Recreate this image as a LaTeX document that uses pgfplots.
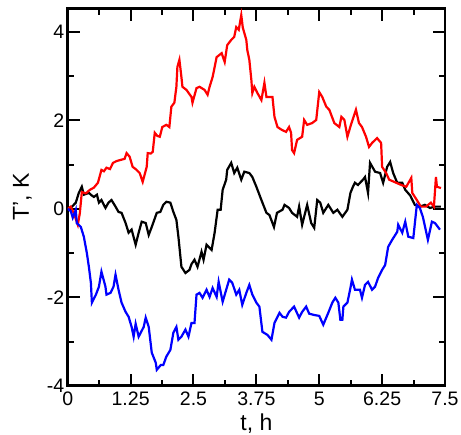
\documentclass[border=0pt]{standalone}
\usepackage{fontspec}
\setmainfont{Liberation Sans}
\usepackage{pgfplots}
\pgfplotsset{compat=1.18}

\begin{document}
\begin{tikzpicture}
\begin{axis}[
    name=ax,
    scale only axis,
    width=377pt,
    height=377pt,
    xmin=0, xmax=7.5,
    ymin=-4, ymax=4.53,
    xtick={0,1.25,2.5,3.75,5,6.25,7.5},
    xticklabels={0,1.25,2.5,3.75,5,6.25,7.5},
    ytick={-4,-2,0,2,4},
    minor x tick num=1,
    minor y tick num=1,
    tick align=inside,
    major tick length=12pt,
    minor tick length=6pt,
    every tick/.style={line width=2pt, black},
    axis line style={line width=2.6pt},
    /pgf/number format/assume math mode=true,
    tick label style={font=\fontsize{19.5}{22}\selectfont},
    xticklabel style={yshift=-3pt},
    xlabel={t, h},
    ylabel={T', K},
    every axis x label/.style={at={(axis description cs:0.5,-0.1008)}, anchor=center, font=\fontsize{23}{26}\selectfont},
    every axis y label/.style={at={(axis description cs:-0.1199,0.5)}, rotate=90, anchor=center, font=\fontsize{23}{26}\selectfont},
]
% black
\addplot[black, line width=2.2pt] coordinates {
(0,0)(0.06,0.02)(0.16,0.14)(0.22,0.36)(0.28,0.5)(0.32,0.32)(0.42,0.36)(0.48,0.3)(0.52,0.27)(0.58,0.32)(0.62,0.14)(0.67,0.2)(0.75,0.02)(0.81,0.14)(0.87,0.2)(0.95,0.05)(1.01,-0.07)(1.07,-0.09)(1.15,-0.32)(1.21,-0.54)(1.27,-0.47)(1.35,-0.81)(1.41,-0.54)(1.47,-0.29)(1.55,-0.32)(1.61,-0.59)(1.67,-0.41)(1.77,-0.09)(1.84,-0.07)(1.90,0.09)(1.96,0.16)(2.04,0.14)(2.10,-0.07)(2.16,-0.25)(2.2,-0.63)(2.26,-1.31)(2.34,-1.45)(2.42,-1.38)(2.46,-1.25)(2.52,-1.15)(2.58,-1.31)(2.66,-0.97)(2.70,-1.15)(2.76,-0.81)(2.86,-0.93)(2.92,-0.54)(2.98,-0.02)(3.04,-0.02)(3.08,0.43)(3.15,0.66)(3.17,0.88)(3.25,1.04)(3.31,0.81)(3.37,0.93)(3.45,0.66)(3.51,0.84)(3.61,0.81)(3.67,0.72)(3.75,0.5)(3.85,0.2)(3.95,-0.09)(4.01,-0.14)(4.10,-0.41)(4.16,-0.09)(4.27,-0.02)(4.31,0.09)(4.40,0.02)(4.46,-0.09)(4.56,-0.18)(4.60,0.05)(4.66,-0.36)(4.76,0.09)(4.84,-0.32)(4.9,-0.43)(4.96,0.2)(5.02,0.14)(5.08,-0.09)(5.18,0.09)(5.28,-0.09)(5.36,-0.02)(5.46,-0.18)(5.56,-0.02)(5.62,0.36)(5.67,0.5)(5.71,0.59)(5.77,0.54)(5.87,0.66)(5.91,0.72)(5.97,0.36)(6.01,1.04)(6.11,0.84)(6.21,0.81)(6.27,0.59)(6.35,0.95)(6.41,1.06)(6.47,0.81)(6.55,0.59)(6.65,0.59)(6.71,0.43)(6.81,0.3)(6.90,0.09)(7.0,0.05)(7.1,0.09)(7.2,0.02)(7.3,0.05)(7.42,0.05)
};
% red
\addplot[red, line width=2.2pt] coordinates {
(0,0)(0.06,0.05)(0.12,-0.1)(0.2,-0.36)(0.24,-0.1)(0.28,0.38)(0.36,0.35)(0.44,0.43)(0.52,0.48)(0.6,0.59)(0.67,0.88)(0.72,0.85)(0.77,0.93)(0.84,0.9)(0.9,1.04)(0.97,1.08)(1.03,1.1)(1.13,1.13)(1.17,1.26)(1.23,1.18)(1.29,0.95)(1.35,0.9)(1.43,0.81)(1.49,0.61)(1.57,0.95)(1.59,1.26)(1.65,1.25)(1.69,1.29)(1.73,1.72)(1.78,1.65)(1.83,1.63)(1.88,1.85)(1.96,1.9)(2.02,1.85)(2.06,2.31)(2.12,2.4)(2.16,2.76)(2.18,3.21)(2.22,3.37)(2.26,2.98)(2.28,2.76)(2.36,2.69)(2.46,2.53)(2.48,2.4)(2.56,2.73)(2.62,2.76)(2.72,2.69)(2.78,2.58)(2.82,2.76)(2.88,2.98)(2.96,3.43)(3.06,3.52)(3.12,3.32)(3.17,3.7)(3.25,3.82)(3.31,3.89)(3.35,4.11)(3.4,4.05)(3.45,4.38)(3.48,4.1)(3.55,3.82)(3.57,3.59)(3.61,3.37)(3.65,2.92)(3.67,2.62)(3.71,2.76)(3.77,2.62)(3.85,2.46)(3.91,2.85)(3.95,2.53)(4.07,2.53)(4.11,2.08)(4.17,1.85)(4.25,1.79)(4.34,1.74)(4.40,1.85)(4.44,1.72)(4.46,1.33)(4.50,1.26)(4.56,1.56)(4.66,1.63)(4.70,2.01)(4.76,1.9)(4.86,1.94)(4.94,2.01)(5.0,2.64)(5.06,2.53)(5.14,2.31)(5.2,2.24)(5.30,1.94)(5.40,1.85)(5.44,2.08)(5.5,2.01)(5.56,1.63)(5.63,1.9)(5.73,2.24)(5.79,1.94)(5.85,1.85)(5.93,1.63)(5.99,1.4)(6.05,1.49)(6.15,1.6)(6.23,1.49)(6.25,0.95)(6.33,0.81)(6.39,0.66)(6.53,0.59)(6.63,0.54)(6.73,0.5)(6.83,0.7)(6.85,0.36)(6.94,0.2)(7.02,0.05)(7.12,0.05)(7.22,0.14)(7.28,0.05)(7.32,0.72)(7.34,0.5)(7.42,0.47)
};
% blue
\addplot[blue, line width=2.2pt] coordinates {
(0,0)(0.06,-0.05)(0.1,-0.2)(0.16,-0.02)(0.18,-0.32)(0.26,-0.41)(0.32,-0.63)(0.38,-1.0)(0.42,-1.31)(0.46,-1.67)(0.48,-2.12)(0.56,-1.94)(0.62,-1.76)(0.67,-1.42)(0.75,-1.76)(0.77,-1.94)(0.85,-1.9)(0.91,-1.76)(0.95,-1.49)(1.01,-1.83)(1.07,-2.12)(1.15,-2.33)(1.21,-2.44)(1.27,-2.67)(1.31,-2.89)(1.35,-2.6)(1.41,-2.89)(1.51,-2.67)(1.55,-2.46)(1.61,-2.67)(1.67,-3.25)(1.75,-3.48)(1.77,-3.64)(1.85,-3.53)(1.90,-3.53)(1.96,-3.34)(2.04,-3.19)(2.10,-2.80)(2.16,-2.67)(2.20,-2.96)(2.26,-2.89)(2.34,-2.73)(2.40,-2.89)(2.46,-2.58)(2.52,-2.58)(2.56,-1.94)(2.62,-1.9)(2.68,-2.01)(2.76,-1.83)(2.82,-1.99)(2.88,-1.79)(2.96,-1.99)(3.0,-1.65)(3.08,-2.10)(3.15,-1.83)(3.21,-1.6)(3.27,-1.67)(3.35,-1.94)(3.41,-1.83)(3.47,-2.17)(3.55,-1.90)(3.61,-1.72)(3.67,-1.94)(3.75,-2.12)(3.81,-2.21)(3.87,-2.78)(3.97,-2.85)(4.05,-2.96)(4.11,-2.58)(4.21,-2.35)(4.27,-2.44)(4.34,-2.46)(4.40,-2.33)(4.50,-2.21)(4.60,-2.46)(4.66,-2.33)(4.74,-2.21)(4.80,-2.37)(4.90,-2.40)(5.0,-2.42)(5.08,-2.62)(5.18,-2.35)(5.26,-2.12)(5.32,-2.01)(5.38,-2.12)(5.42,-2.51)(5.46,-2.51)(5.48,-2.21)(5.56,-2.12)(5.62,-1.79)(5.65,-1.6)(5.71,-1.83)(5.81,-1.83)(5.85,-2.01)(5.91,-1.72)(5.97,-1.65)(6.05,-1.83)(6.11,-1.76)(6.17,-1.56)(6.25,-1.38)(6.31,-1.27)(6.37,-0.86)(6.45,-0.70)(6.55,-0.52)(6.57,-0.36)(6.65,-0.54)(6.71,-0.29)(6.77,-0.63)(6.87,-0.66)(6.94,0.09)(7.0,0.02)(7.06,-0.18)(7.16,-0.70)(7.24,-0.29)(7.30,-0.32)(7.40,-0.47)
};
\end{axis}
\pgfresetboundingbox
\path ([shift={(-67.7pt,-49pt)}]ax.south west) rectangle ([shift={(16pt,8.5pt)}]ax.north east);
\end{tikzpicture}
\end{document}
